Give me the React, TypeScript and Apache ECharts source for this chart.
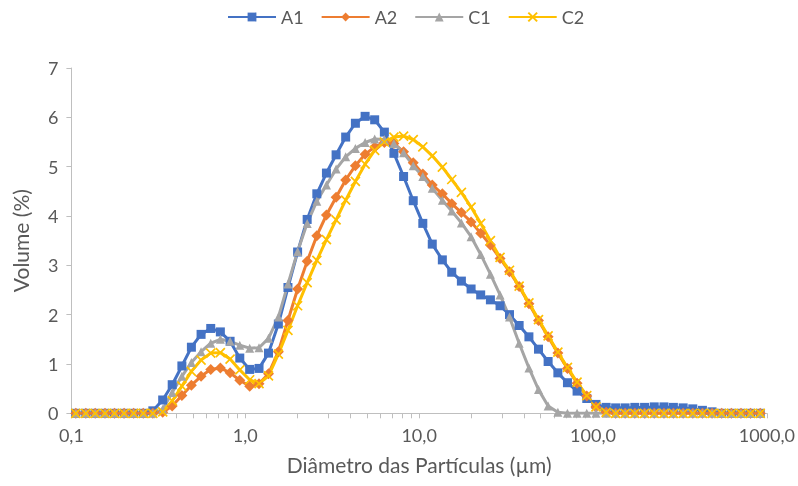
import React, { useEffect, useRef } from 'react';
import * as echarts from 'echarts';

// Particle size classes (µm), geometric centres of the analyser bins
const sizesUm = [
  0.106, 0.121, 0.137, 0.156, 0.177, 0.201, 0.228, 0.259, 0.294, 0.335,
  0.38, 0.432, 0.49, 0.557, 0.633, 0.719, 0.818, 0.93, 1.06, 1.2,
  1.36, 1.55, 1.76, 2.0, 2.27, 2.58, 2.93, 3.33, 3.78, 4.3,
  4.89, 5.55, 6.31, 7.16, 8.14, 9.25, 10.5, 11.9, 13.6, 15.4,
  17.5, 19.9, 22.6, 25.7, 29.2, 33.1, 37.6, 42.8, 48.6, 55.2,
  62.8, 71.3, 81.0, 92.1, 104, 119, 135, 153, 174, 198,
  225, 256, 290, 330, 375, 426, 484, 550, 625, 710,
  806, 916,
];

// Volume fraction (%) per size class
const a1 = [
  0, 0, 0, 0, 0, 0, 0, 0, 0.05, 0.27,
  0.58, 0.96, 1.34, 1.6, 1.72, 1.65, 1.46, 1.12, 0.89, 0.91,
  1.22, 1.81, 2.55, 3.27, 3.93, 4.45, 4.87, 5.24, 5.6, 5.88,
  6.02, 5.95, 5.7, 5.27, 4.8, 4.31, 3.85, 3.43, 3.11, 2.86,
  2.68, 2.52, 2.4, 2.3, 2.18, 2.0, 1.78, 1.55, 1.3, 1.05,
  0.82, 0.62, 0.45, 0.3, 0.18, 0.12, 0.11, 0.11, 0.12, 0.12,
  0.13, 0.13, 0.12, 0.11, 0.09, 0.06, 0.03, 0, 0, 0,
  0, 0,
];

const a2 = [
  0, 0, 0, 0, 0, 0, 0, 0, 0, 0.02,
  0.15, 0.36, 0.57, 0.75, 0.89, 0.92, 0.82, 0.67, 0.55, 0.6,
  0.8, 1.25, 1.88, 2.52, 3.08, 3.6, 4.02, 4.38, 4.73, 5.02,
  5.25, 5.4, 5.49, 5.47, 5.3, 5.08, 4.85, 4.63, 4.45, 4.25,
  4.07, 3.88, 3.65, 3.41, 3.14, 2.87, 2.57, 2.22, 1.88, 1.55,
  1.22, 0.91, 0.61, 0.35, 0.13, 0.02, 0, 0, 0, 0,
  0, 0, 0, 0, 0, 0, 0, 0, 0, 0,
  0, 0,
];

const c1 = [
  0, 0, 0, 0, 0, 0, 0, 0, 0, 0.08,
  0.42, 0.75, 1.03, 1.25, 1.42, 1.5, 1.46, 1.38, 1.32, 1.33,
  1.52, 1.95, 2.62, 3.28, 3.85, 4.3, 4.63, 4.95, 5.2, 5.37,
  5.49, 5.56, 5.55, 5.47, 5.28, 5.02, 4.8, 4.56, 4.32, 4.1,
  3.86, 3.58, 3.22, 2.82, 2.4, 1.95, 1.42, 0.92, 0.48, 0.15,
  0.02, 0, 0, 0, 0, 0, 0, 0, 0, 0,
  0, 0, 0, 0, 0, 0, 0, 0, 0, 0,
  0, 0,
];

const c2 = [
  0, 0, 0, 0, 0, 0, 0, 0, 0, 0.03,
  0.25, 0.55, 0.85, 1.08, 1.22, 1.23, 1.1, 0.88, 0.68, 0.6,
  0.76, 1.2, 1.68, 2.18, 2.65, 3.1, 3.52, 3.92, 4.32, 4.7,
  5.05, 5.33, 5.5, 5.6, 5.62, 5.55, 5.4, 5.22, 4.99, 4.74,
  4.48, 4.18, 3.85, 3.5, 3.16, 2.9, 2.58, 2.24, 1.9, 1.57,
  1.24, 0.93, 0.63, 0.36, 0.13, 0.02, 0, 0, 0, 0,
  0, 0, 0, 0, 0, 0, 0, 0, 0, 0,
  0, 0,
];

const seriesNames = ['A1', 'A2', 'C1', 'C2'];
const seriesValues = [a1, a2, c1, c2];
const seriesColors = ['#4472C4', '#ED7D31', '#A5A5A5', '#FFC000'];

// Decade labels on the log axis and the 1..9 subdivisions used for ticks
const xDecades = [0.1, 1, 10, 100, 1000];
const xSubdivisions = [1, 2, 3, 4, 5, 6, 7, 8, 9];

const textColor = '#595959';
const axisColor = '#BFBFBF';
const fontFamily = 'Lato, "Open Sans", sans-serif';

const crossPath = 'path://M0,0L10,10M10,0L0,10';

export default function App() {
  const ref = useRef<HTMLDivElement>(null);

  useEffect(() => {
    document.body.style.margin = '0';
    const el = ref.current;
    if (!el) return;
    const chart = echarts.init(el, null, { renderer: 'svg' });

    const tickValues: number[] = [];
    xDecades.slice(0, -1).forEach((d) => {
      xSubdivisions.forEach((s) => tickValues.push(+(d * s).toPrecision(3)));
    });
    tickValues.push(xDecades[xDecades.length - 1]);

    const symbols = ['rect', 'diamond', 'triangle', crossPath];
    const symbolSizes = [9, 11, 9, 9];

    const series = seriesNames.map((name, si) => {
      const color = seriesColors[si];
      const isCross = si === 3;
      return {
        name,
        type: 'line',
        data: sizesUm.map((x, i) => [x, seriesValues[si][i]]),
        symbol: symbols[si],
        symbolSize: symbolSizes[si],
        showSymbol: true,
        lineStyle: { color, width: 3 },
        itemStyle: isCross
          ? { color, borderColor: color, borderWidth: 1.7 }
          : { color, borderWidth: 0 },
        emphasis: { disabled: true },
      };
    });

    chart.setOption({
      animation: false,
      textStyle: { fontFamily },
      color: seriesColors,
      legend: {
        top: 3,
        left: 222,
        itemWidth: 48,
        itemHeight: 11,
        itemGap: 17,
        textStyle: { color: textColor, fontSize: 18, fontFamily },
        data: seriesNames,
      },
      grid: { left: 71.4, right: 29.4, top: 68, bottom: 72.7, containLabel: false },
      xAxis: {
        type: 'log',
        logBase: 10,
        min: 0.1,
        max: 1000,
        name: 'Diâmetro das Partículas (µm)',
        nameLocation: 'middle',
        nameGap: 41,
        nameTextStyle: { color: textColor, fontSize: 21, fontFamily },
        axisLine: { show: true, lineStyle: { color: axisColor, width: 1 } },
        axisTick: {
          show: true,
          length: 5,
          customValues: tickValues,
          lineStyle: { color: axisColor, width: 1 },
        },
        minorTick: { show: false },
        splitLine: { show: false },
        axisLabel: {
          color: textColor,
          fontSize: 18,
          margin: 13,
          customValues: xDecades,
          formatter: (v: number) => Number(v).toFixed(1).replace('.', ','),
        },
      },
      yAxis: {
        type: 'value',
        min: 0,
        max: 7,
        interval: 1,
        name: 'Volume (%)',
        nameLocation: 'middle',
        nameGap: 40,
        nameTextStyle: { color: textColor, fontSize: 21, fontFamily },
        axisLine: { show: true, lineStyle: { color: axisColor, width: 1 } },
        axisTick: { show: true, length: 5, lineStyle: { color: axisColor, width: 1 } },
        splitLine: { show: false },
        axisLabel: { color: textColor, fontSize: 18, margin: 13 },
      },
      series,
    });

    return () => {
      chart.dispose();
    };
  }, []);

  return (
    <div
      ref={ref}
      style={{ position: 'fixed', left: 0, top: 0, width: 798, height: 486 }}
    />
  );
}
